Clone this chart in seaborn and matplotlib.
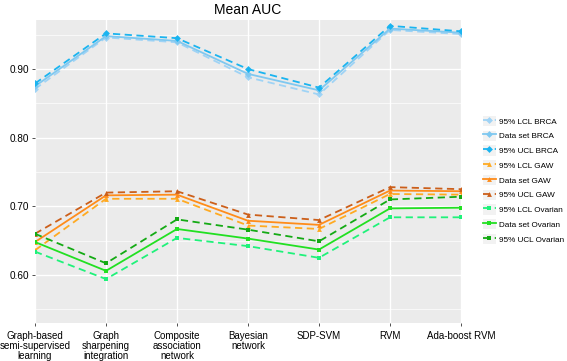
import pandas as pd
import numpy as np
import matplotlib
matplotlib.use("Agg")
import matplotlib.pyplot as plt
from matplotlib.legend_handler import HandlerLine2D
from matplotlib.patches import Rectangle
import seaborn as sns

plt.rcParams["font.family"] = ["Liberation Sans", "DejaVu Sans"]

# === datos
metodos = ["Graph-based\nsemi-supervised\nlearning", "Graph\nsharpening\nintegration",
           "Composite\nassociation\nnetwork", "Bayesian\nnetwork", "SDP-SVM", "RVM",
           "Ada-boost RVM"]

lcl_brca = [0.871, 0.946, 0.939, 0.888, 0.863, 0.957, 0.951]
data_brca = [0.875, 0.948, 0.941, 0.893, 0.869, 0.959, 0.953]
ucl_brca = [0.879, 0.952, 0.945, 0.900, 0.873, 0.963, 0.955]
lcl_gaw = [0.636, 0.711, 0.711, 0.672, 0.667, 0.718, 0.717]
data_gaw = [0.648, 0.716, 0.717, 0.679, 0.673, 0.723, 0.722]
ucl_gaw = [0.660, 0.720, 0.722, 0.688, 0.680, 0.728, 0.725]
lcl_ov = [0.634, 0.594, 0.654, 0.642, 0.625, 0.684, 0.684]
data_ov = [0.648, 0.606, 0.667, 0.653, 0.637, 0.697, 0.698]
ucl_ov = [0.660, 0.617, 0.681, 0.666, 0.649, 0.710, 0.714]

series = {
    "95% LCL BRCA": lcl_brca,
    "Data set BRCA": data_brca,
    "95% UCL BRCA": ucl_brca,
    "95% LCL GAW": lcl_gaw,
    "Data set GAW": data_gaw,
    "95% UCL GAW": ucl_gaw,
    "95% LCL Ovarian": lcl_ov,
    "Data set Ovarian": data_ov,
    "95% UCL Ovarian": ucl_ov,
}

colores = {
    "95% LCL BRCA": "#9fd3f5",
    "Data set BRCA": "#7fc8f0",
    "95% UCL BRCA": "#1ab4f0",
    "95% LCL GAW": "#ffaa22",
    "Data set GAW": "#ff8c1a",
    "95% UCL GAW": "#cc5f1a",
    "95% LCL Ovarian": "#1ff27a",
    "Data set Ovarian": "#22e022",
    "95% UCL Ovarian": "#14aa14",
}
marcadores = {"BRCA": "D", "GAW": "^", "Ovarian": "s"}

filas = []
for nombre, vals in series.items():
    for m, v in zip(metodos, vals):
        filas.append({"metodo": m, "auc": v, "serie": nombre})
df = pd.DataFrame(filas)


# fondo gris en las claves de la leyenda (como ggplot)
class HandlerFondo(HandlerLine2D):
    def create_artists(self, legend, orig_handle, xdescent, ydescent, width, height,
                       fontsize, trans):
        arts = super().create_artists(legend, orig_handle, xdescent, ydescent, width,
                                      height, fontsize, trans)
        fondo = Rectangle((-xdescent, -ydescent), width, height, facecolor="#f2f2f2",
                          edgecolor="none", transform=trans)
        return [fondo] + list(arts)


# === gráfico
fig = plt.figure(figsize=(5.67, 3.61), dpi=100)
ax = fig.add_axes([35 / 567, 1 - 323 / 361, 426 / 567, 303 / 361])
ax.set_facecolor("#ebebeb")

for nombre in series:
    sub = df[df["serie"] == nombre]
    grupo = nombre.split()[-1]
    estilo = (0, (4, 2.5)) if "95%" in nombre else "-"
    sns.lineplot(data=sub, x="metodo", y="auc", ax=ax, sort=False, color=colores[nombre],
                 linestyle=estilo, lw=1.3, marker=marcadores[grupo], markersize=3.5,
                 markeredgewidth=0, label=nombre)

ax.set_xlim(0, len(metodos) - 1)
ax.set_ylim(0.530, 0.9715)
ax.set_yticks([0.6, 0.7, 0.8, 0.9])
ax.set_yticklabels(["0.60", "0.70", "0.80", "0.90"])
ax.set_yticks([0.55, 0.65, 0.75, 0.85, 0.95], minor=True)
ax.grid(True, which="major", color="white", lw=1.0)
ax.grid(True, which="minor", axis="y", color="white", lw=0.5)
ax.set_axisbelow(True)
for s in ax.spines.values():
    s.set_visible(False)
ax.tick_params(axis="both", which="major", labelsize=7.2, colors="#333333", length=2.5,
               color="#333333", width=0.6, labelcolor="black", pad=2)
ax.tick_params(axis="x", which="major", pad=3)
ax.tick_params(axis="y", which="minor", length=0)
for t in ax.get_xticklabels():
    t.set_linespacing(1.0)
    t.set_fontsize(7.0)
ax.set_xlabel("")
ax.set_ylabel("")
ax.set_title("Mean AUC", fontsize=10, pad=4)

handles, labels = ax.get_legend_handles_labels()
ax.get_legend().remove()
fig.legend(handles, labels, loc="center left", bbox_to_anchor=(483 / 567, 1 - 180 / 361),
           frameon=False, fontsize=5.9, handlelength=1.55, handleheight=1.55,
           labelspacing=0.55, handletextpad=0.4, borderaxespad=0, borderpad=0,
           handler_map={h: HandlerFondo() for h in handles})

fig.savefig("out.png", dpi=100)
